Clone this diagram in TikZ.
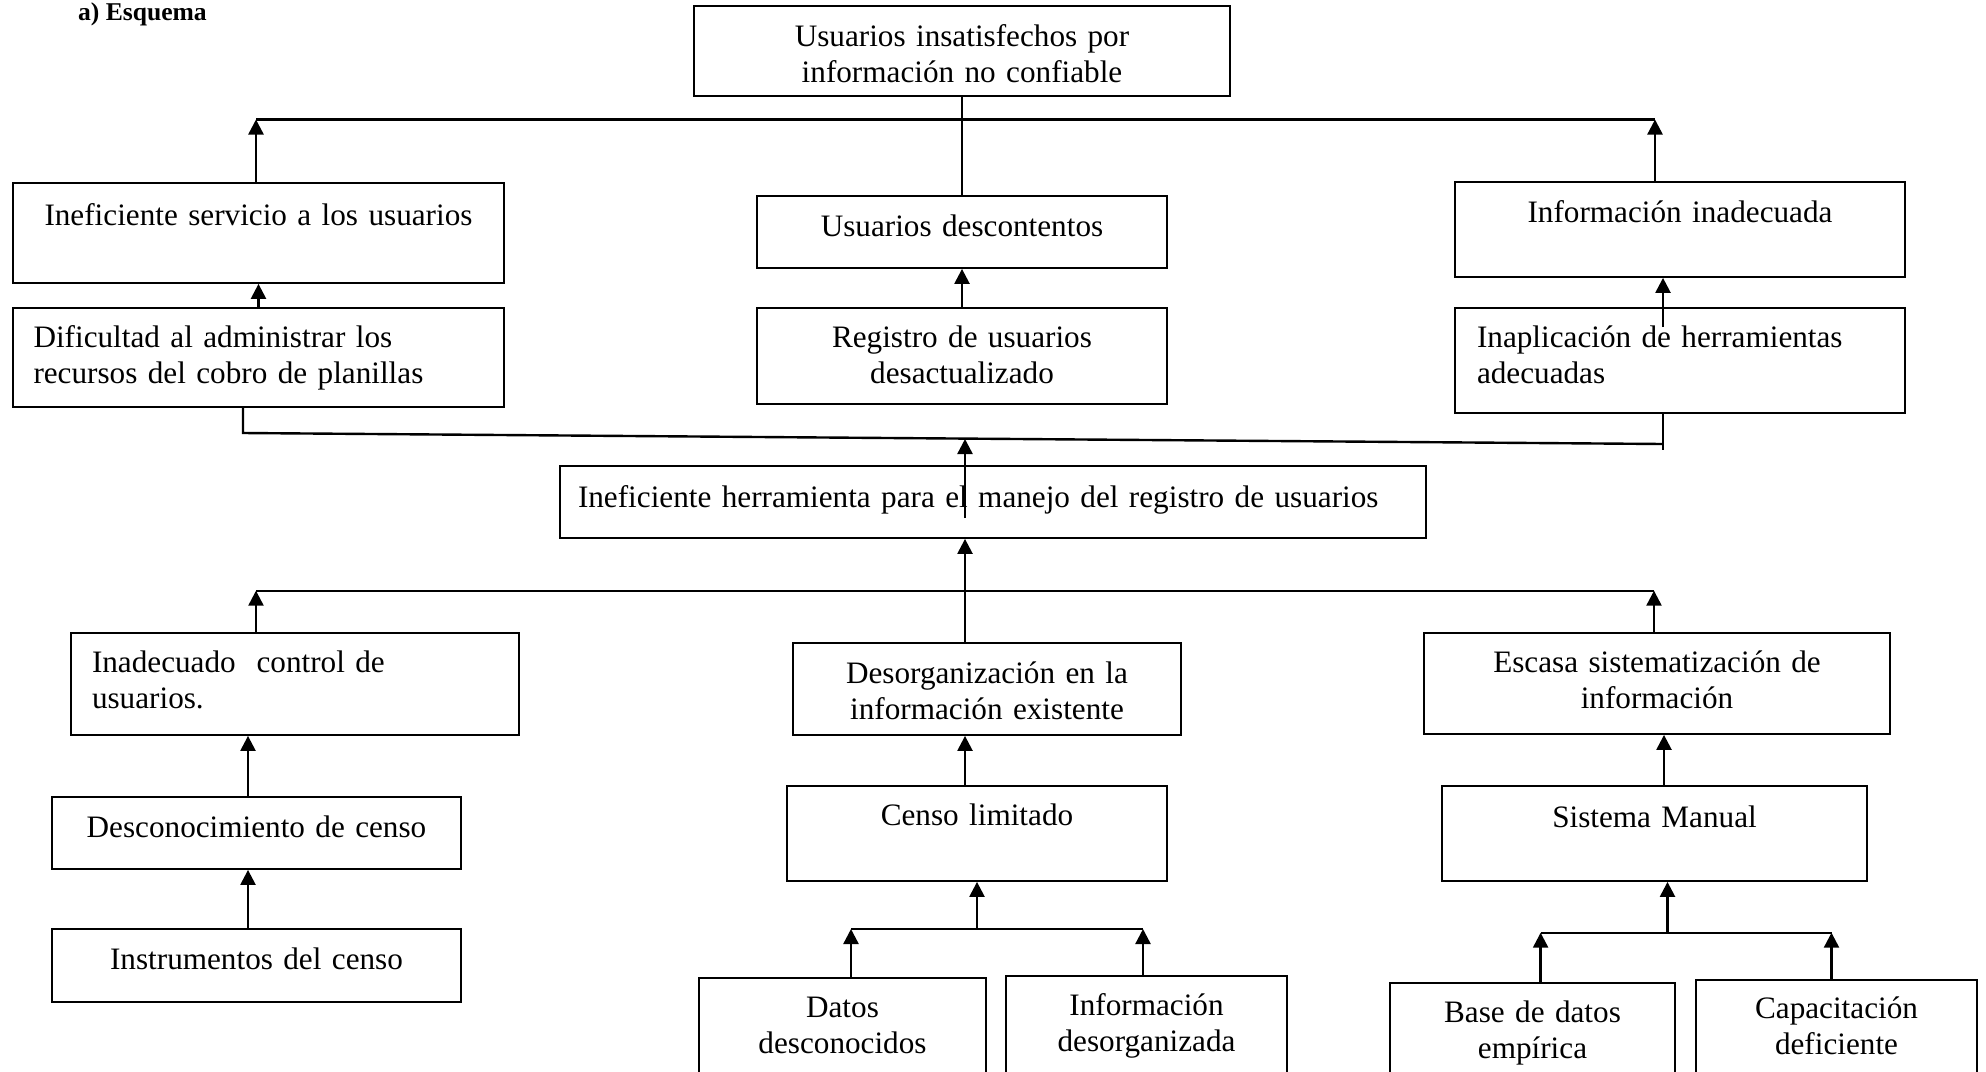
\documentclass[tikz,border=0pt]{standalone}
\usepackage{fontspec}
\setmainfont{Liberation Serif}
\usetikzlibrary{arrows.meta,calc}
\newcommand{\texto}{\fontsize{15.6pt}{18.25pt}\selectfont}
\tikzset{
  caja/.style n args={3}{draw, line width=0.9pt, inner ysep=0pt, inner xsep=5pt,
    minimum width=#1*0.5pt, text width=#1*0.5pt-10pt,
    text height=#2*0.5pt, text depth=#3*0.5pt, align=center, font=\texto},
  cajai/.style n args={4}{caja={#1}{#2}{#3}, align=left,
    inner xsep=#4*0.5pt, text width=(#1-2*#4)*0.5pt},
  flecha/.style={line width=1.2pt, -{Triangle[length=7.5pt,width=7.5pt]}},
  linea/.style={line width=1.2pt}
}
\begin{document}
\begin{tikzpicture}[x=0.5pt, y=-0.5pt]
  \useasboundingbox (0,0) rectangle (1986,1071);
  \clip (0,0) rectangle (1986,1071);
  \node[anchor=base west, font=\fontsize{12.8pt}{15pt}\selectfont\bfseries] (titulo) at (71,20) {a) Esquema};
  % efectos
  \node[caja={536}{40}{50}] (efecto) at (962,51) {Usuarios insatisfechos por\\información no confiable};
  \node[caja={491}{42}{58}] (serv) at (258.5,233) {Ineficiente servicio a los usuarios};
  \node[caja={410}{40}{32}] (desc) at (962,232) {Usuarios descontentos};
  \node[caja={450}{40}{55}] (info) at (1680,229.5) {Información inadecuada};
  \node[cajai={491}{39}{60}{20.5}] (dif) at (258.5,357.5) {Dificultad al administrar los\\recursos del cobro de planillas};
  \node[caja={410}{39}{57}] (reg) at (962,356) {Registro de usuarios\\desactualizado};
  \node[cajai={450}{39}{66}{22}] (inap) at (1680,360.5) {Inaplicación de herramientas\\adecuadas};
  % problema
  \node[cajai={866}{41}{31}{18}] (herr) at (993,502) {Ineficiente herramienta para el manejo del registro de usuarios};
  % causas
  \node[cajai={448}{39}{63}{21}] (inad) at (295,684) {Inadecuado~ control de\\usuarios.};
  \node[caja={388}{40}{52}] (desorg) at (987,689) {Desorganización en la\\información existente};
  \node[caja={466}{39}{62}] (esc) at (1657,683.5) {Escasa sistematización de\\información};
  \node[caja={409}{40}{32}] (desco) at (256.5,833) {Desconocimiento de censo};
  \node[caja={380}{39}{56}] (censo) at (977,833.5) {Censo limitado};
  \node[caja={425}{41}{54}] (sist) at (1654.5,833.5) {Sistema Manual};
  \node[caja={409}{40}{33}] (inst) at (256.5,965.5) {Instrumentos del censo};
  \node[caja={287}{39}{73}] (datos) at (842.5,1034) {Datos\\desconocidos};
  \node[caja={281}{39}{75}] (infdes) at (1146.5,1033) {Información\\desorganizada};
  \node[caja={285}{39}{68}] (base) at (1532.5,1036.5) {Base de datos\\empírica};
  \node[caja={281}{38}{72}] (capac) at (1836.5,1035) {Capacitación\\deficiente};

  % conexiones de efectos
  \coordinate (e1) at (256,119.5);
  \coordinate (e3) at (1655,119.5);
  \draw[linea] (e1) -- (e3);
  \draw[linea] (efecto.south) -- (desc.north);
  \draw[flecha] (serv.north -| e1) -- (e1);
  \draw[flecha] (info.north -| e3) -- (e3);
  \draw[flecha] (dif.north) -- (serv.south);
  \draw[flecha] (reg.north) -- (desc.south);
  \coordinate (j1) at (243,433);
  \coordinate (j2) at (1663,444);
  \coordinate (j3) at (1663,450);
  \coordinate (j0) at (965,439);
  \draw[flecha] ($(inap.north -| j3)+(0,20)$) -- (info.south -| j3);
  \draw[linea] (dif.south -| j1) -- (j1) -- (j2);
  \draw[linea] (inap.south -| j3) -- (j3);
  \draw[flecha] ($(herr.center -| j0)+(0,16)$) -- (j0);

  % conexiones de causas
  \coordinate (c1) at (256,590.7);
  \coordinate (c2) at (965,590.7);
  \coordinate (c3) at (1654,590.7);
  \coordinate (xa) at (248,0);
  \coordinate (xb) at (1664,0);
  \draw[linea] (c1) -- (c3);
  \draw[flecha] (inad.north -| c1) -- (c1);
  \draw[flecha] (esc.north -| c3) -- (c3);
  \draw[flecha] (desorg.north -| c2) -- (herr.south -| c2);
  \draw[flecha] (desco.north -| xa) -- (inad.south -| xa);
  \draw[flecha] (inst.north -| xa) -- (desco.south -| xa);
  \draw[flecha] (censo.north -| c2) -- (desorg.south -| c2);
  \draw[flecha] (sist.north -| xb) -- (esc.south -| xb);
  \coordinate (s1) at (851,929);
  \coordinate (s3) at (1143,929);
  \draw[linea] (s1) -- (s3);
  \draw[flecha] (datos.north -| s1) -- (s1);
  \draw[flecha] (infdes.north -| s3) -- (s3);
  \draw[flecha] (censo.south |- s1) -- (censo.south);
  \coordinate (t1) at (1540.6,932.7);
  \coordinate (t2) at (1667.5,932.7);
  \coordinate (t3) at (1831.5,932.7);
  \draw[linea] (t1) -- (t3);
  \draw[flecha] (base.north -| t1) -- (t1);
  \draw[flecha] (capac.north -| t3) -- (t3);
  \draw[flecha] (t2) -- (sist.south -| t2);
\end{tikzpicture}
\end{document}
